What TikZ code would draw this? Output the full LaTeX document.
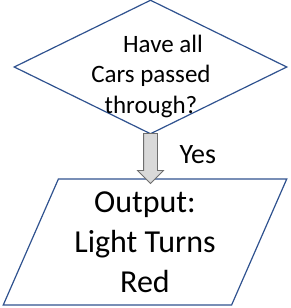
\documentclass[tikz,border=0pt]{standalone}
\usepackage{fontspec}
\setmainfont{Carlito}
\usetikzlibrary{shapes.geometric, shapes.arrows, positioning}
\definecolor{shapeblue}{RGB}{47,82,143}
\definecolor{arrowfill}{RGB}{217,217,217}
\definecolor{arrowline}{RGB}{110,110,110}

\begin{document}
\begin{tikzpicture}[
		x=1pt, y=-1pt,
		decision/.style={draw=shapeblue, line width=1.2pt, diamond, minimum width=273pt, minimum height=134pt, inner sep=0pt},
		outbox/.style={draw=shapeblue, line width=1.2pt, trapezium, trapezium left angle=66, trapezium right angle=114, trapezium stretches=true, minimum width=284pt, minimum height=126pt, inner sep=0pt, align=center, font=\fontsize{32}{40}\selectfont},
		flow/.style={single arrow, draw=arrowline, fill=arrowfill, line width=0.8pt, minimum height=50pt, inner sep=6.5pt, single arrow head extend=6pt, rotate=-90},
		qtext/.style={font=\fontsize{25}{30.5}\selectfont, align=center}
		]
		\useasboundingbox (0,0) rectangle (291,308);
		
		% Nodes
		\node[decision] (cars) at (150.5,67) {};
		\node[qtext] (carstext) at (151,76) {\hspace*{24pt}Have all\\Cars passed\\through?};
		
		\node[outbox] (red) at (145,242) {Output:\\Light Turns\\Red};
		
		% Arrow
		\node[flow] (yesarrow) at (150.5,155) {};
		\node[font=\fontsize{28}{30}\selectfont, anchor=base west] (yes) at (176,163) {Yes};
		
	\end{tikzpicture}
\end{document}
